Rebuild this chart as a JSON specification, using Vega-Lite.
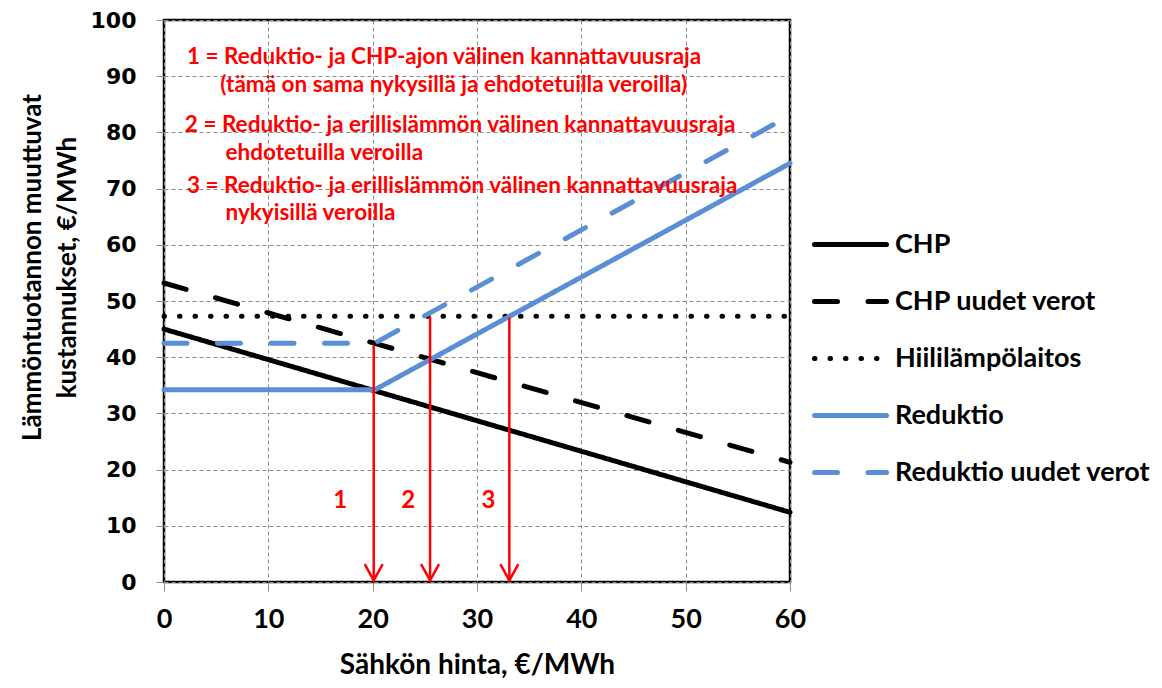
{
  "$schema": "https://vega.github.io/schema/vega-lite/v6.json",
  "width": 626,
  "height": 562,
  "autosize": {"type": "none"},
  "padding": {"left": 164, "top": 20, "right": 372, "bottom": 106},
  "background": "white",
  "config": {
    "font": "Lato",
    "view": {"stroke": "black", "strokeWidth": 2.5}
  },
  "datasets": {
    "lines": [
      {"series": "CHP", "x": 0, "y": 45.0},
      {"series": "CHP", "x": 60, "y": 12.4},
      {"series": "CHP uudet verot", "x": 0, "y": 53.2},
      {"series": "CHP uudet verot", "x": 60, "y": 21.3},
      {"series": "Hiililämpölaitos", "x": 0, "y": 47.3},
      {"series": "Hiililämpölaitos", "x": 60, "y": 47.3},
      {"series": "Reduktio", "x": 0, "y": 34.2},
      {"series": "Reduktio", "x": 20.2, "y": 34.2},
      {"series": "Reduktio", "x": 60, "y": 74.5},
      {"series": "Reduktio uudet verot", "x": 0, "y": 42.5},
      {"series": "Reduktio uudet verot", "x": 20.2, "y": 42.5},
      {"series": "Reduktio uudet verot", "x": 60, "y": 83.0}
    ],
    "arrows": [
      {"id": "1", "x": 20.1, "ystart": 42.2, "ytip": 0.3, "lx": 16.9, "ly": 14.5},
      {"id": "2", "x": 25.5, "ystart": 47.3, "ytip": 0.3, "lx": 23.4, "ly": 14.5},
      {"id": "3", "x": 33.1, "ystart": 47.0, "ytip": 0.3, "lx": 31.1, "ly": 14.5}
    ],
    "notes": [
      {"x": 2.2, "y": 93.5, "text": "1 = Reduktio- ja CHP-ajon välinen kannattavuusraja"},
      {"x": 5.4, "y": 88.4, "text": "(tämä on sama nykysillä ja ehdotetuilla veroilla)"},
      {"x": 2.0, "y": 81.3, "text": "2 = Reduktio- ja erillislämmön välinen kannattavuusraja"},
      {"x": 5.9, "y": 76.3, "text": "ehdotetuilla veroilla"},
      {"x": 2.2, "y": 70.5, "text": "3 = Reduktio- ja erillislämmön välinen kannattavuusraja"},
      {"x": 5.9, "y": 65.6, "text": "nykyisillä veroilla"}
    ]
  },
  "layer": [
    {
      "data": {"name": "lines"},
      "mark": {"type": "line", "strokeWidth": 5, "strokeCap": "round"},
      "encoding": {
        "x": {
          "field": "x", "type": "quantitative",
          "scale": {"domain": [0, 60], "nice": false},
          "axis": {
            "title": "Sähkön hinta, €/MWh",
            "values": [0, 10, 20, 30, 40, 50, 60],
            "domain": false,
            "grid": true, "gridDash": [4, 3], "gridColor": "#8c8c8c", "gridWidth": 1,
            "tickColor": "#8c8c8c", "tickSize": 9,
            "labelFont": "Lato", "labelFontSize": 27, "labelFontWeight": "bold", "labelColor": "black",
            "labelPadding": 15, "labelFlush": false,
            "titleFont": "Lato", "titleFontSize": 28, "titleFontWeight": "bold", "titleColor": "black",
            "titlePadding": 19
          }
        },
        "y": {
          "field": "y", "type": "quantitative",
          "scale": {"domain": [0, 100], "nice": false},
          "axis": {
            "title": ["Lämmöntuotannon muuttuvat", "kustannukset, €/MWh"],
            "values": [0, 10, 20, 30, 40, 50, 60, 70, 80, 90, 100],
            "domain": false,
            "grid": true, "gridDash": [4, 3], "gridColor": "#8c8c8c", "gridWidth": 1,
            "tickColor": "#8c8c8c", "tickSize": 8,
            "labelFont": "DejaVu Sans", "labelFontSize": 22, "labelFontWeight": "bold", "labelColor": "black",
            "labelPadding": 20,
            "titleFont": "Lato", "titleFontSize": 26, "titleFontWeight": "bold", "titleColor": "black",
            "titleLineHeight": 35, "titlePadding": 10, "titleY": 247
          }
        },
        "color": {
          "field": "series", "type": "nominal",
          "scale": {
            "domain": ["CHP", "CHP uudet verot", "Hiililämpölaitos", "Reduktio", "Reduktio uudet verot"],
            "range": ["#000000", "#000000", "#000000", "#5A8FD5", "#5A8FD5"]
          },
          "legend": {
            "title": null,
            "orient": "none", "legendX": 648, "legendY": 186,
            "symbolType": "stroke", "symbolSize": 5184, "symbolStrokeWidth": 5,
            "labelFont": "Lato", "labelFontSize": 27, "labelFontWeight": "bold", "labelColor": "black",
            "labelOffset": 6, "rowPadding": 5, "labelLimit": 400,
            "encode": {"symbols": {"update": {"strokeCap": {"value": "round"}}}}
          }
        },
        "strokeDash": {
          "field": "series", "type": "nominal",
          "scale": {
            "domain": ["CHP", "CHP uudet verot", "Hiililämpölaitos", "Reduktio", "Reduktio uudet verot"],
            "range": [[1, 0], [23, 30.5], [0.5, 15], [1, 0], [23, 30.5]]
          },
          "legend": {
            "title": null,
            "orient": "none", "legendX": 648, "legendY": 186,
            "symbolType": "stroke", "symbolSize": 5184, "symbolStrokeWidth": 5,
            "labelFont": "Lato", "labelFontSize": 27, "labelFontWeight": "bold", "labelColor": "black",
            "labelOffset": 6, "rowPadding": 5, "labelLimit": 400,
            "encode": {"symbols": {"update": {"strokeCap": {"value": "round"}}}}
          }
        }
      }
    },
    {
      "data": {"name": "arrows"},
      "mark": {"type": "rule", "stroke": "#ff0000", "strokeWidth": 2.5},
      "encoding": {
        "x": {"field": "x", "type": "quantitative"},
        "y": {"field": "ystart", "type": "quantitative"},
        "y2": {"field": "ytip"}
      }
    },
    {
      "data": {"name": "arrows"},
      "mark": {"type": "point", "shape": "M -0.5 -0.9 L 0 0 L 0.5 -0.9", "size": 1296, "filled": false, "stroke": "#ff0000", "strokeWidth": 2.5, "opacity": 1},
      "encoding": {
        "x": {"field": "x", "type": "quantitative"},
        "y": {"field": "ytip", "type": "quantitative"}
      }
    },
    {
      "data": {"name": "arrows"},
      "mark": {"type": "text", "font": "Lato", "fontSize": 24, "fontWeight": "bold", "color": "#ff0000", "align": "center", "baseline": "middle"},
      "encoding": {
        "x": {"field": "lx", "type": "quantitative"},
        "y": {"field": "ly", "type": "quantitative"},
        "text": {"field": "id"}
      }
    },
    {
      "data": {"name": "notes"},
      "mark": {"type": "text", "font": "Lato", "fontSize": 22.5, "fontWeight": "bold", "color": "#ff0000", "align": "left", "baseline": "middle"},
      "encoding": {
        "x": {"field": "x", "type": "quantitative"},
        "y": {"field": "y", "type": "quantitative"},
        "text": {"field": "text"}
      }
    }
  ]
}
